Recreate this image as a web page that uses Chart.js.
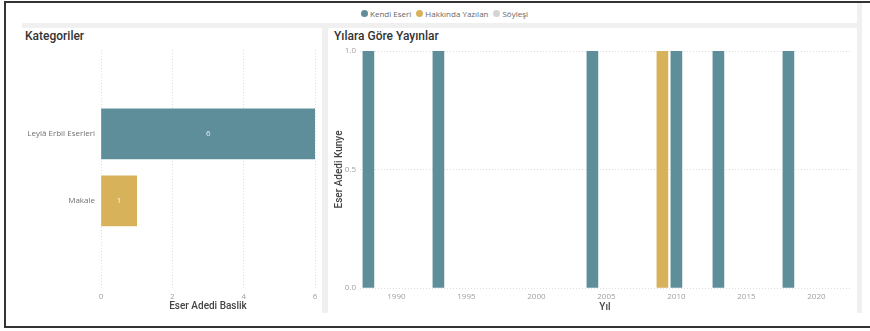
<!DOCTYPE html>
<html>
<head>
<meta charset="utf-8">
<script src="https://cdn.jsdelivr.net/npm/chart.js@4"></script>
<style>
  html, body { margin: 0; padding: 0; }
  body { width: 870px; height: 331px; position: relative; background: #fff; overflow: hidden; font-family: "Open Sans", sans-serif; }
  .abs { position: absolute; }
  .gray { position: absolute; background: #f0f0f0; }
  .line { position: absolute; background: #333; }
  .title { position: absolute; font-family: Roboto, sans-serif; font-weight: 500; font-size: 12px; color: #333; white-space: nowrap; }
  #legend { position: absolute; left: 361px; top: 8px; display: flex; align-items: center; font-size: 8px; color: #666; }
  #legend .item { display: flex; align-items: center; margin-right: 5px; }
  #legend .dot { width: 7px; height: 7px; border-radius: 50%; margin-right: 2px; }
</style>
</head>
<body>
<!-- page frame -->
<div class="line" style="left:4px; top:1px; width:866px; height:2px;"></div>
<div class="line" style="left:4px; top:1px; width:2px; height:327px;"></div>
<div class="line" style="left:4px; top:326px; width:866px; height:2px;"></div>

<!-- panel gaps -->
<div class="gray" style="left:22px; top:23px; width:840px; height:5px;"></div>
<div class="gray" style="left:322px; top:28px; width:6px; height:285px;"></div>
<div class="gray" style="left:857px; top:3px; width:5px; height:310px;"></div>

<div id="legend"></div>

<div class="title" style="left:25px; top:29px;">Kategoriler</div>
<div class="title" style="left:334px; top:29px;">Yılara Göre Yayınlar</div>

<div class="abs" style="left:20px; top:28px; width:302px; height:288px;"><canvas id="catChart"></canvas></div>
<div class="abs" style="left:328px; top:28px; width:529px; height:288px;"><canvas id="yearChart"></canvas></div>

<script>
// categories chart
const categories = ["Leylâ Erbil Eserleri", "Makale"];
const categoryCounts = [6, 1];
const countTicks = [0, 2, 4, 6];

// publications per year, by series
const seriesNames = ["Kendi Eseri", "Hakkında Yazılan", "Söyleşi"];
const kendiYears = [1988, 1993, 2004, 2010, 2013, 2018];
const kendiValues = [1, 1, 1, 1, 1, 1];
const hakkindaYears = [2009];
const hakkindaValues = [1];
const soylesiYears = [];
const soylesiValues = [];
const yearTicks = [1990, 1995, 2000, 2005, 2010, 2015, 2020];
const kunyeTicks = [0, 0.5, 1];

const TEAL = "#5f8e9b";
const GOLD = "#d8b25b";
const LIGHT = "#d4d4d4";
const seriesColors = [TEAL, GOLD, LIGHT];
const categoryColors = [TEAL, GOLD];

const tickFont = { family: "'Open Sans', sans-serif", size: 8 };
const axisTitleFont = { family: "Roboto, sans-serif", size: 10, weight: "500" };
const dotted = { display: false, dash: [1, 2] };

// shared legend
const legendEl = document.getElementById("legend");
seriesNames.forEach((name, i) => {
  const item = document.createElement("div");
  item.className = "item";
  const dot = document.createElement("span");
  dot.className = "dot";
  dot.style.background = seriesColors[i];
  const txt = document.createElement("span");
  txt.textContent = name;
  item.appendChild(dot); item.appendChild(txt);
  legendEl.appendChild(item);
});

// writes the value in the middle of each bar
const barValueLabels = {
  id: "barValueLabels",
  afterDatasetsDraw(chart) {
    const ctx = chart.ctx;
    ctx.save();
    ctx.font = "8px 'Open Sans', sans-serif";
    ctx.fillStyle = "rgba(255,255,255,0.85)";
    ctx.textAlign = "center";
    ctx.textBaseline = "middle";
    chart.getDatasetMeta(0).data.forEach((bar, i) => {
      const p = bar.getProps(["x", "y", "base"], true);
      ctx.fillText(chart.data.datasets[0].data[i].x, (p.x + p.base) / 2, p.y);
    });
    ctx.restore();
  }
};

new Chart(document.getElementById("catChart"), {
  type: "bar",
  data: {
    datasets: [{
      data: categories.map((c, i) => ({ x: categoryCounts[i], y: i })),
      backgroundColor: categoryColors,
      barThickness: 50
    }]
  },
  options: {
    indexAxis: "y",
    responsive: true,
    maintainAspectRatio: false,
    animation: false,
    layout: { padding: { top: 22, right: 7, left: 0, bottom: 0 } },
    plugins: { legend: { display: false }, tooltip: { enabled: false } },
    scales: {
      x: {
        type: "linear",
        min: 0, max: 6,
        afterBuildTicks: s => { s.ticks = countTicks.map(v => ({ value: v })); },
        afterFit: s => { s.height = 28; },
        ticks: { font: tickFont, color: "#a0a0a0", padding: 4 },
        grid: { color: "#dedede", drawTicks: false },
        border: dotted,
        title: { display: true, text: "Eser Adedi Baslik", font: axisTitleFont, color: "#444", padding: { top: 0, bottom: 4 } }
      },
      y: {
        type: "linear",
        reverse: true,
        offset: false,
        min: -1.25, max: 2.3,
        afterBuildTicks: s => { s.ticks = categories.map((c, i) => ({ value: i })); },
        afterFit: s => { s.width = 81; },
        ticks: { font: tickFont, color: "#707070", padding: 6, callback: v => categories[v] },
        grid: { display: false, drawTicks: false },
        border: { display: false }
      }
    }
  },
  plugins: [barValueLabels]
});

const toPoints = (years, values) => years.map((y, i) => ({ x: y, y: values[i] }));

new Chart(document.getElementById("yearChart"), {
  type: "bar",
  data: {
    datasets: [
      { label: seriesNames[0], data: toPoints(kendiYears, kendiValues), backgroundColor: TEAL },
      { label: seriesNames[1], data: toPoints(hakkindaYears, hakkindaValues), backgroundColor: GOLD },
      { label: seriesNames[2], data: toPoints(soylesiYears, soylesiValues), backgroundColor: LIGHT }
    ]
  },
  options: {
    responsive: true,
    maintainAspectRatio: false,
    animation: false,
    datasets: { bar: { barThickness: 11, grouped: false } },
    layout: { padding: { top: 23, right: 7, left: 0, bottom: 0 } },
    plugins: { legend: { display: false }, tooltip: { enabled: false } },
    scales: {
      x: {
        type: "linear",
        offset: false,
        min: 1987.4, max: 2022.4,
        afterBuildTicks: s => { s.ticks = yearTicks.map(v => ({ value: v })); },
        afterFit: s => { s.height = 28; },
        ticks: { font: tickFont, color: "#a0a0a0", padding: 4, callback: v => String(v) },
        grid: { display: false, drawTicks: false },
        border: { display: false },
        title: { display: true, text: "Yıl", font: axisTitleFont, color: "#444", padding: { top: 0, bottom: 3 } }
      },
      y: {
        type: "linear",
        min: 0, max: 1,
        afterBuildTicks: s => { s.ticks = kunyeTicks.map(v => ({ value: v })); },
        afterFit: s => { s.width = 32; },
        ticks: { font: tickFont, color: "#a0a0a0", padding: 4, callback: v => v.toFixed(1) },
        grid: { color: "#dedede", drawTicks: false },
        border: dotted,
        title: { display: true, text: "Eser Adedi Kunye", font: axisTitleFont, color: "#444", padding: { top: 5, bottom: 0 } }
      }
    }
  }
});
</script>
</body>
</html>
